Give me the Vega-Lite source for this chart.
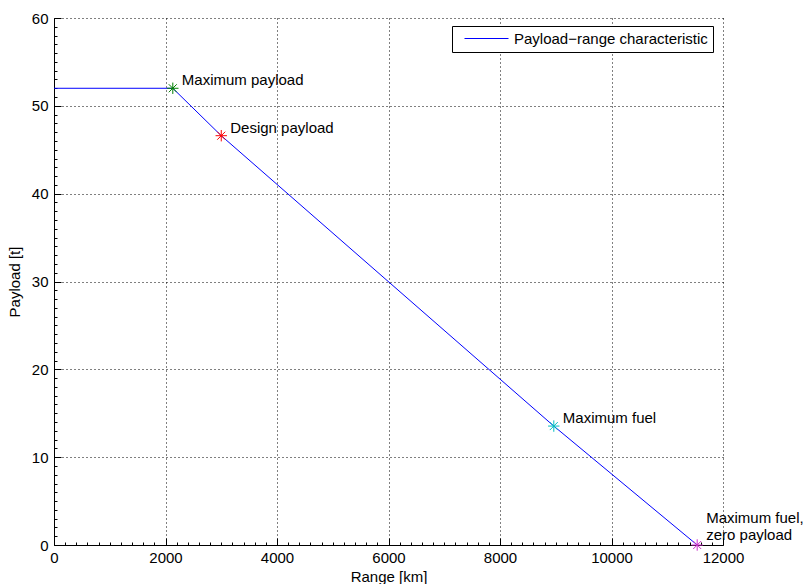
{
  "$schema": "https://vega.github.io/schema/vega-lite/v6.json",
  "width": 669,
  "height": 527,
  "autosize": {"type": "none"},
  "padding": {"left": 54, "top": 18, "right": 85, "bottom": 39},
  "background": "white",
  "config": {
    "view": {"stroke": null},
    "font": "Liberation Sans",
    "axis": {
      "domainColor": "black",
      "domainWidth": 1,
      "tickColor": "black",
      "labelColor": "black",
      "titleColor": "black",
      "labelFontSize": 15,
      "titleFontSize": 15,
      "titleFontWeight": "normal",
      "gridColor": "black",
      "gridDash": [1, 3],
      "gridWidth": 1
    }
  },
  "datasets": {
    "curve": [
      {"range": 0, "payload": 52, "series": "Payload−range characteristic"},
      {"range": 2131, "payload": 52, "series": "Payload−range characteristic"},
      {"range": 3000, "payload": 46.6, "series": "Payload−range characteristic"},
      {"range": 8965, "payload": 13.54, "series": "Payload−range characteristic"},
      {"range": 11537, "payload": 0, "series": "Payload−range characteristic"}
    ],
    "points": [
      {"range": 2131, "payload": 52, "point": "Maximum payload", "label": "Maximum payload"},
      {"range": 3000, "payload": 46.6, "point": "Design payload", "label": "Design payload"},
      {"range": 8965, "payload": 13.54, "point": "Maximum fuel", "label": "Maximum fuel"},
      {"range": 11537, "payload": 0, "point": "Maximum fuel, zero payload", "label": "Maximum fuel,\nzero payload"}
    ]
  },
  "layer": [
    {
      "data": {"name": "curve"},
      "mark": {"type": "line", "strokeWidth": 1, "clip": false},
      "encoding": {
        "x": {
          "field": "range", "type": "quantitative",
          "scale": {"domain": [0, 12000], "nice": false},
          "axis": {
            "title": "Range [km]",
            "titlePadding": 0,
            "format": "d",
            "tickCount": 200,
            "values": [0,200,400,600,800,1000,1200,1400,1600,1800,2000,2200,2400,2600,2800,3000,3200,3400,3600,3800,4000,4200,4400,4600,4800,5000,5200,5400,5600,5800,6000,6200,6400,6600,6800,7000,7200,7400,7600,7800,8000,8200,8400,8600,8800,9000,9200,9400,9600,9800,10000,10200,10400,10600,10800,11000,11200,11400,11600,11800,12000],
            "labelExpr": "datum.value % 2000 === 0 ? datum.label : ''",
            "labelPadding": 12,
            "tickSize": {"condition": {"test": "datum.value % 2000 === 0", "value": -7}, "value": -3},
            "gridOpacity": {"condition": {"test": "datum.value % 2000 === 0", "value": 1}, "value": 0},
            "labelFlush": false,
            "labelOverlap": false
          }
        },
        "y": {
          "field": "payload", "type": "quantitative",
          "scale": {"domain": [0, 60], "nice": false},
          "axis": {
            "title": "Payload [t]",
            "titlePadding": 9,
            "format": "d",
            "tickCount": 200,
            "values": [0,1,2,3,4,5,6,7,8,9,10,11,12,13,14,15,16,17,18,19,20,21,22,23,24,25,26,27,28,29,30,31,32,33,34,35,36,37,38,39,40,41,42,43,44,45,46,47,48,49,50,51,52,53,54,55,56,57,58,59,60],
            "labelExpr": "datum.value % 10 === 0 ? datum.label : ''",
            "labelPadding": 13,
            "tickSize": {"condition": {"test": "datum.value % 10 === 0", "value": -7}, "value": -3},
            "gridOpacity": {"condition": {"test": "datum.value % 10 === 0", "value": 1}, "value": 0},
            "labelFlush": false,
            "labelOverlap": false
          }
        },
        "color": {
          "field": "series", "type": "nominal",
          "scale": {"range": ["#0000ff"]},
          "legend": {
            "title": null,
            "orient": "none",
            "legendX": 398,
            "legendY": 8,
            "strokeColor": "black",
            "fillColor": "white",
            "padding": 5,
            "symbolType": "M 0 0 L 8 0",
            "symbolSize": 121,
            "symbolStrokeWidth": 1,
            "symbolFillColor": "transparent",
            "labelFontSize": 15,
            "labelColor": "black",
            "labelFont": "Liberation Sans",
            "labelLimit": 0,
            "labelOffset": 42,
            "cornerRadius": 0
          }
        }
      }
    },
    {
      "data": {"name": "points"},
      "mark": {
        "type": "point",
        "shape": "M -1 0 L 1 0 M 0 -1 L 0 1 M -0.7 -0.7 L 0.7 0.7 M -0.7 0.7 L 0.7 -0.7",
        "filled": false,
        "size": 130,
        "strokeWidth": 1,
        "opacity": 1,
        "clip": false
      },
      "encoding": {
        "x": {"field": "range", "type": "quantitative"},
        "y": {"field": "payload", "type": "quantitative"},
        "stroke": {
          "field": "point", "type": "nominal",
          "scale": {
            "domain": ["Maximum payload", "Design payload", "Maximum fuel", "Maximum fuel, zero payload"],
            "range": ["#008000", "#ff0000", "#00bfbf", "#cc33cc"]
          },
          "legend": null
        }
      }
    },
    {
      "data": {"name": "points"},
      "transform": [{"filter": "indexof(datum.label, '\\n') < 0"}],
      "mark": {
        "type": "text",
        "align": "left",
        "baseline": "bottom",
        "dx": 9,
        "dy": 0,
        "fontSize": 15,
        "color": "black",
        "font": "Liberation Sans"
      },
      "encoding": {
        "x": {"field": "range", "type": "quantitative"},
        "y": {"field": "payload", "type": "quantitative"},
        "text": {"field": "label", "type": "nominal"}
      }
    },
    {
      "data": {"name": "points"},
      "transform": [{"filter": "indexof(datum.label, '\\n') >= 0"}],
      "mark": {
        "type": "text",
        "align": "left",
        "baseline": "bottom",
        "dx": 9,
        "dy": -19,
        "fontSize": 15,
        "lineBreak": "\n",
        "lineHeight": 17,
        "color": "black",
        "font": "Liberation Sans"
      },
      "encoding": {
        "x": {"field": "range", "type": "quantitative"},
        "y": {"field": "payload", "type": "quantitative"},
        "text": {"field": "label", "type": "nominal"}
      }
    }
  ]
}
